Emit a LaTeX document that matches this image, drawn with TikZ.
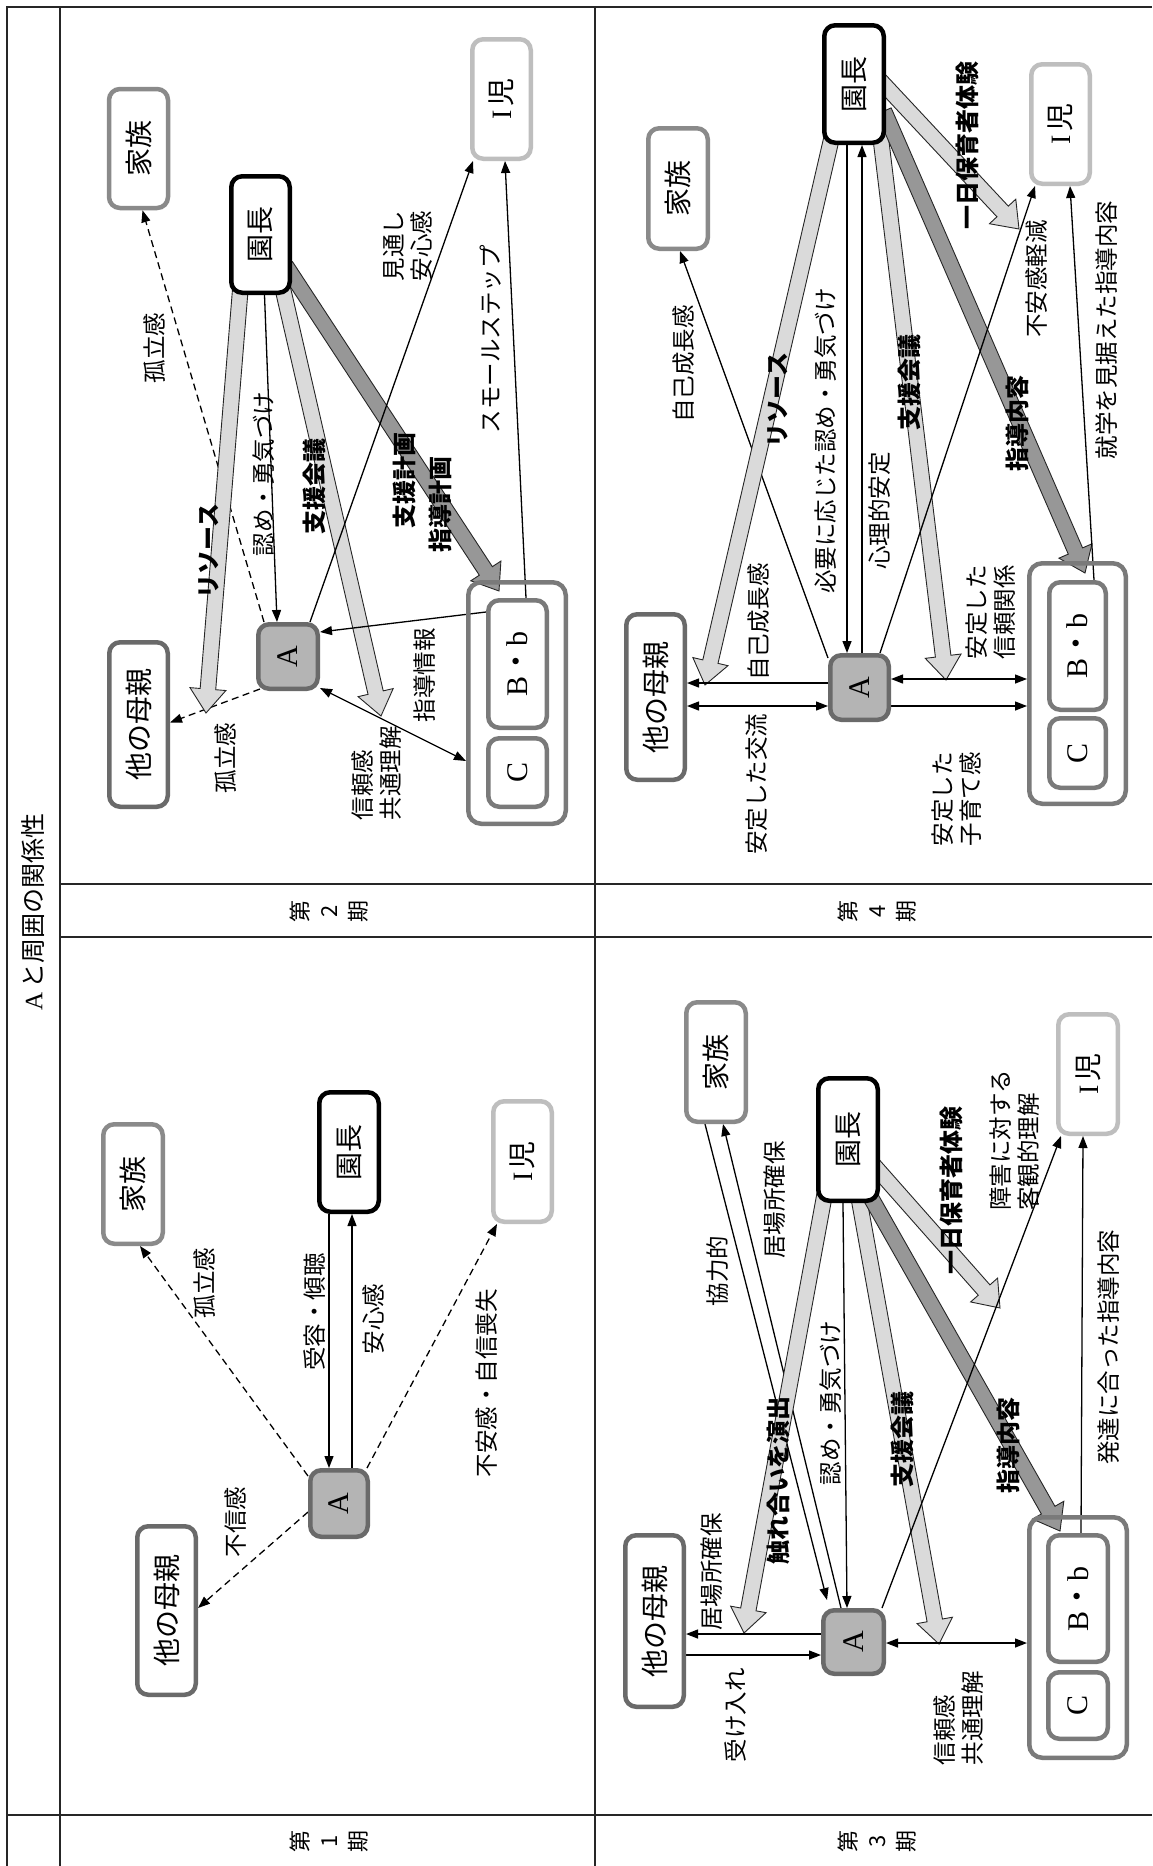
\documentclass[tikz,border=0pt]{standalone}
\usepackage{fontspec}
\setmainfont{Liberation Serif}
\newfontfamily\jp{Noto Sans CJK JP}
\usetikzlibrary{arrows.meta,calc}
\pgfdeclarelayer{bg}
\pgfsetlayers{bg,main}
\definecolor{kzc}{HTML}{8A8A8A}
\definecolor{mmc}{HTML}{6A6A6A}
\definecolor{ijc}{HTML}{BEBEBE}
\definecolor{grc}{HTML}{7A7A7A}
\definecolor{afill}{HTML}{B4B4B4}
\definecolor{lightarr}{HTML}{DADADA}
\definecolor{darkarr}{HTML}{979797}
\tikzset{
 box/.style={draw=#1, rounded corners=11pt, line width=4.5pt, fill=white, inner sep=0pt},
 gbox/.style={draw=grc, rounded corners=13pt, line width=4.5pt, inner sep=0pt},
 btxt/.style={rotate=90, font=\jp\fontsize{28}{30}\selectfont, inner sep=0pt},
 ltxt/.style={rotate=90, font=\rmfamily\fontsize{30}{32}\selectfont, inner sep=0pt},
 lbl/.style={rotate=90, font=\jp\fontsize{23.5}{28}\selectfont, inner sep=0pt},
 blbl/.style={rotate=90, font=\jp\bfseries\fontsize{24}{28}\selectfont, inner sep=0pt},
 plbl/.style={rotate=90, font=\jp\fontsize{22}{29}\selectfont, inner sep=0pt, align=center},
 tarr/.style={line width=1.3pt, draw=black, -{Triangle[length=12pt,width=9pt]}},
 darr/.style={line width=1.3pt, draw=black, {Triangle[length=12pt,width=9pt]}-{Triangle[length=12pt,width=9pt]}},
 dsh/.style={tarr, dash pattern=on 7pt off 4.5pt},
 tbl/.style={line width=1.3pt, draw=black!85},
}
\newcommand\bigarr[3]{%
 \coordinate (bgS) at (#2);
 \coordinate (bgE) at (#3);
 \coordinate (bgN) at ($(bgE)!24pt!(bgS)$);
 \filldraw[fill=#1, draw=black!85, line width=0.9pt, line join=miter]
  ($(bgS)!7.8pt!90:(bgE)$) -- ($(bgN)!7.8pt!90:(bgE)$) -- ($(bgN)!18pt!90:(bgE)$) -- (bgE)
  -- ($(bgN)!18pt!-90:(bgE)$) -- ($(bgN)!7.8pt!-90:(bgE)$) -- ($(bgS)!7.8pt!-90:(bgE)$) -- cycle;}
\begin{document}
\begin{tikzpicture}[x=1pt,y=-1pt]
\useasboundingbox (0,0) rectangle (1152,1866);
% ---------- titles ----------
\node[rotate=90, font=\jp\fontsize{25}{28}\selectfont, inner sep=0pt] (title) at (33,912) {{\rmfamily A}\hspace{4pt}と周囲の関係性};
\node[plbl] (p1) at (329,1841) {第\\1\\期};
\node[plbl] (p2) at (329,911) {第\\2\\期};
\node[plbl] (p3) at (877,1841) {第\\3\\期};
\node[plbl] (p4) at (877,911) {第\\4\\期};
% ---------- period 2 ----------
\node[box=kzc,minimum width=59pt,minimum height=119pt] (k2) at (138.5,148.5) {};
\node[box=black,minimum width=58.5pt,minimum height=116.5pt] (e2) at (260.5,234.5) {};
\node[box=ijc,minimum width=58.5pt,minimum height=119.5pt] (i2) at (501.5,99) {};
\node[box=mmc,minimum width=58.5pt,minimum height=164.5pt] (m2) at (138.5,724.5) {};
\node[box=mmc,fill=afill,minimum width=59.5pt,minimum height=64.5pt] (a2) at (288,656.5) {};
\node[gbox,minimum width=97.5pt,minimum height=241.5pt] (g2) at (517,703) {};
\node[box=grc,minimum width=58.5pt,minimum height=127.5pt] (b2) at (517.5,664) {};
\node[box=grc,minimum width=58.5pt,minimum height=68.5pt] (c2) at (517.5,772.5) {};
\node[btxt] (k2t) at (k2) {家族};
\node[btxt] (e2t) at (e2) {園長};
\node[btxt] (i2t) at (i2) {{\rmfamily I}\hspace{3pt}児};
\node[btxt] (m2t) at (m2) {他の母親};
\node[ltxt] (a2t) at (a2) {A};
\node[ltxt] (b2t) at (b2) {B{\jp ・}b};
\node[ltxt] (c2t) at (c2) {C};
\node[lbl] (l2a) at (155,348) {孤立感};
\node[lbl] (l2b) at (226,758) {孤立感};
\node[blbl] (l2c) at (209,551) {リソース};
\node[lbl] (l2d) at (264,474) {認め・勇気づけ};
\node[blbl] (l2e) at (314,486) {支援会議};
\node[blbl] (l2f) at (404,480) {支援計画};
\node[blbl] (l2g) at (440,504) {指導計画};
\node[lbl,align=center] (l2h) at (408,246) {見通し\\安心感};
\node[lbl] (l2i) at (491,339) {スモールステップ};
\node[lbl] (l2j) at (425,675) {指導情報};
\node[lbl,align=left] (l2k) at (377,773) {信頼感\\共通理解};
% ---------- period 1 ----------
\node[box=kzc,minimum width=59.5pt,minimum height=119.5pt] (k1) at (133,1184) {};
\node[box=black,minimum width=59.5pt,minimum height=119.5pt] (e1) at (349,1152) {};
\node[box=ijc,minimum width=58.5pt,minimum height=120.5pt] (i1) at (522.5,1161.5) {};
\node[box=mmc,minimum width=58.5pt,minimum height=168.5pt] (m1) at (166.5,1610.5) {};
\node[box=mmc,fill=afill,minimum width=57.5pt,minimum height=66.5pt] (a1) at (339,1503.5) {};
\node[btxt] (k1t) at (k1) {家族};
\node[btxt] (e1t) at (e1) {園長};
\node[btxt] (i1t) at (i1) {{\rmfamily I}\hspace{3pt}児};
\node[btxt] (m1t) at (m1) {他の母親};
\node[ltxt] (a1t) at (a1) {A};
\node[lbl] (l1a) at (315,1312) {受容・傾聴};
\node[lbl] (l1b) at (374,1319) {安心感};
\node[lbl] (l1c) at (205,1283) {孤立感};
\node[lbl] (l1d) at (235,1522) {不信感};
\node[lbl] (l1e) at (487,1383) {不安感・自信喪失};
% ---------- period 4 ----------
\node[box=kzc,minimum width=59.5pt,minimum height=120.5pt] (k4) at (678,188.5) {};
\node[box=black,minimum width=59.5pt,minimum height=117.5pt] (e4) at (854,84) {};
\node[box=ijc,minimum width=58.5pt,minimum height=119.5pt] (i4) at (1060.5,124) {};
\node[box=mmc,minimum width=58.5pt,minimum height=165.5pt] (m4) at (655.5,697) {};
\node[box=mmc,fill=afill,minimum width=58.5pt,minimum height=64.5pt] (a4) at (859.5,687.5) {};
\node[gbox,minimum width=96.5pt,minimum height=240.5pt] (g4) at (1077.5,683.5) {};
\node[box=grc,minimum width=56.5pt,minimum height=127.5pt] (b4) at (1077.5,646) {};
\node[box=grc,minimum width=56.5pt,minimum height=69.5pt] (c4) at (1077.5,753) {};
\node[btxt] (k4t) at (k4) {家族};
\node[btxt] (e4t) at (e4) {園長};
\node[btxt] (i4t) at (i4) {{\rmfamily I}\hspace{3pt}児};
\node[btxt] (m4t) at (m4) {他の母親};
\node[ltxt] (a4t) at (a4) {A};
\node[ltxt] (b4t) at (b4) {B{\jp ・}b};
\node[ltxt] (c4t) at (c4) {C};
\node[lbl] (l4a) at (684,364) {自己成長感};
\node[blbl] (l4b) at (778,400) {リソース};
\node[lbl] (l4c) at (826,441) {必要に応じた認め・勇気づけ};
\node[lbl] (l4d) at (880,511) {心理的安定};
\node[blbl] (l4e) at (909,382) {支援会議};
\node[blbl] (l4f) at (1017,423) {指導内容};
\node[blbl] (l4g) at (967,145) {一日保育者体験};
\node[lbl] (l4h) at (1037,279) {不安感軽減};
\node[lbl] (l4i) at (1107,330) {就学を見据えた指導内容};
\node[lbl] (l4j) at (759,622) {自己成長感};
\node[lbl] (l4k) at (757,784) {安定した交流};
\node[lbl,align=left] (l4l) at (991,612) {安定した\\信頼関係};
\node[lbl,align=left] (l4m) at (957,799) {安定した\\子育て感};
% ---------- period 3 ----------
\node[box=kzc,minimum width=59.5pt,minimum height=119.5pt] (k3) at (716,1062) {};
\node[box=black,minimum width=59.5pt,minimum height=122.5pt] (e3) at (848,1139.5) {};
\node[box=ijc,minimum width=59.5pt,minimum height=119.5pt] (i3) at (1088,1074) {};
\node[box=mmc,minimum width=58.5pt,minimum height=171.5pt] (m3) at (654.5,1621) {};
\node[box=mmc,fill=afill,minimum width=60.5pt,minimum height=63.5pt] (a3) at (853.5,1642) {};
\node[gbox,minimum width=97.5pt,minimum height=240.5pt] (g3) at (1078,1637.5) {};
\node[box=grc,minimum width=59.5pt,minimum height=126.5pt] (b3) at (1078,1598.5) {};
\node[box=grc,minimum width=59.5pt,minimum height=66.5pt] (c3) at (1078,1705.5) {};
\node[btxt] (k3t) at (k3) {家族};
\node[btxt] (e3t) at (e3) {園長};
\node[btxt] (i3t) at (i3) {{\rmfamily I}\hspace{3pt}児};
\node[btxt] (m3t) at (m3) {他の母親};
\node[ltxt] (a3t) at (a3) {A};
\node[ltxt] (b3t) at (b3) {B{\jp ・}b};
\node[ltxt] (c3t) at (c3) {C};
\node[lbl] (l3a) at (718,1271) {協力的};
\node[lbl] (l3b) at (775,1200) {居場所確保};
\node[blbl] (l3c) at (778,1480) {触れ合いを演出};
\node[lbl] (l3d) at (831,1403) {認め・勇気づけ};
\node[blbl] (l3e) at (902,1439) {支援会議};
\node[blbl] (l3f) at (1008,1445) {指導内容};
\node[blbl] (l3g) at (951,1190) {一日保育者体験};
\node[lbl,align=left] (l3h) at (1015,1140) {障害に対する\\客観的理解};
\node[lbl] (l3i) at (1109,1347) {発達に合った指導内容};
\node[lbl] (l3j) at (712,1572) {居場所確保};
\node[lbl] (l3k) at (735,1715) {受け入れ};
\node[lbl,align=left] (l3l) at (959,1718) {信頼感\\共通理解};
% ---------- free arrow ends ----------
\coordinate (t2r) at (206,713);
\coordinate (t2s) at (381,716);
\coordinate (t2d) at (499,591);
\coordinate (t4r) at (705,685);
\coordinate (t4s) at (946,680);
\coordinate (t4d) at (1085,573);
\coordinate (t4i) at (1019,229);
\coordinate (t3r) at (744,1633);
\coordinate (t3s) at (939,1644);
\coordinate (t3d) at (1060,1531);
\coordinate (t3i) at (1000,1308);
\begin{pgfonlayer}{bg}
\fill[white] (0,0) rectangle (1152,1866);
% table
\draw[tbl] (7,1866) -- (7,7) -- (1152,7);
\draw[tbl] (60,7) -- (60,1866);
\draw[tbl] (595,7) -- (595,1866);
\draw[tbl] (60,884) -- (1152,884);
\draw[tbl] (60,937) -- (1152,937);
\draw[tbl] (7,1815) -- (1152,1815);
% period 2
\draw[dsh] ([xshift=-24]a2.north) -- ([xshift=4]k2.south);
\draw[dsh] ([xshift=4,yshift=2]a2.south west) -- ([yshift=2]m2.east);
\bigarr{lightarr}{[xshift=-19.5,yshift=14]e2.south}{t2r}
\draw[tarr] ([xshift=4]e2.south) -- ([xshift=-11]a2.north);
\bigarr{lightarr}{[xshift=20.5,yshift=14]e2.south}{t2s}
\bigarr{darkarr}{[xshift=-6,yshift=29]e2.south east}{t2d}
\draw[tarr] ([xshift=-10]a2.north east) -- ([xshift=3]i2.south west);
\draw[tarr] ([xshift=8.5]b2.north) -- ([xshift=3.5]i2.south);
\draw[tarr] ([yshift=-14]b2.north west) -- ([yshift=24.5]a2.east);
\draw[darr] ([yshift=3]a2.south east) -- ([yshift=-58]g2.west);
% period 1
\draw[tarr] ([xshift=-20]e1.south) -- ([xshift=-10]a1.north);
\draw[tarr] ([xshift=13]a1.north) -- ([xshift=3]e1.south);
\draw[dsh] ([yshift=-8]a1.north west) -- ([xshift=7]k1.south);
\draw[dsh] ([yshift=-8.5]a1.west) -- ([yshift=2.5]m1.east);
\draw[dsh] ([xshift=-3]a1.north east) -- ([xshift=6]i1.south west);
% period 4
\draw[tarr] ([yshift=-5]a4.north west) -- ([xshift=2]k4.south);
\bigarr{lightarr}{[xshift=-21,yshift=13]e4.south}{t4r}
\draw[tarr] ([xshift=-7]e4.south) -- ([xshift=-12.5]a4.north);
\draw[tarr] ([xshift=2.5]a4.north) -- ([xshift=8]e4.south);
\bigarr{lightarr}{[xshift=26,yshift=13]e4.south}{t4s}
\bigarr{lightarr}{[xshift=-9,yshift=7]e4.east}{t4i}
\bigarr{darkarr}{[xshift=-2,yshift=-27]e4.east}{t4d}
\draw[tarr] ([xshift=-11]a4.north east) -- ([xshift=6]i4.south west);
\draw[tarr] ([xshift=16.5]b4.north) -- ([xshift=9.5]i4.south);
\draw[tarr] ([yshift=4.5]a4.west) -- ([yshift=14]m4.east);
\draw[darr] ([yshift=-9]m4.east) -- ([yshift=-18.5]a4.west);
\draw[darr] ([yshift=8.5]a4.east) -- ([yshift=4.5]g4.west);
\draw[tarr] ([yshift=-18.5]a4.east) -- ([yshift=-22.5]g4.west);
% period 3
\draw[tarr] ([xshift=-11]k3.south) -- ([xshift=6,yshift=8]a3.north west);
\draw[tarr] ([xshift=20]a3.north west) -- ([xshift=7]k3.south);
\bigarr{lightarr}{[xshift=-22,yshift=16]e3.south}{t3r}
\draw[tarr] ([xshift=-5]e3.south) -- ([xshift=-6.5]a3.north);
\bigarr{lightarr}{[xshift=9,yshift=15]e3.south}{t3s}
\bigarr{lightarr}{[xshift=-10,yshift=-21.5]e3.east}{t3i}
\bigarr{darkarr}{[xshift=-14,yshift=14]e3.south east}{t3d}
\draw[tarr] ([xshift=-4]a3.north east) -- ([xshift=5]i3.south west);
\draw[tarr] ([xshift=3]b3.north) -- ([xshift=-5]i3.south);
\draw[tarr] ([yshift=8]a3.west) -- ([yshift=-13]m3.east);
\draw[tarr] ([yshift=-34]m3.east) -- ([yshift=-13]a3.west);
\draw[darr] ([yshift=-1]a3.east) -- ([yshift=-5.5]g3.west);
\end{pgfonlayer}
\end{tikzpicture}
\end{document}
